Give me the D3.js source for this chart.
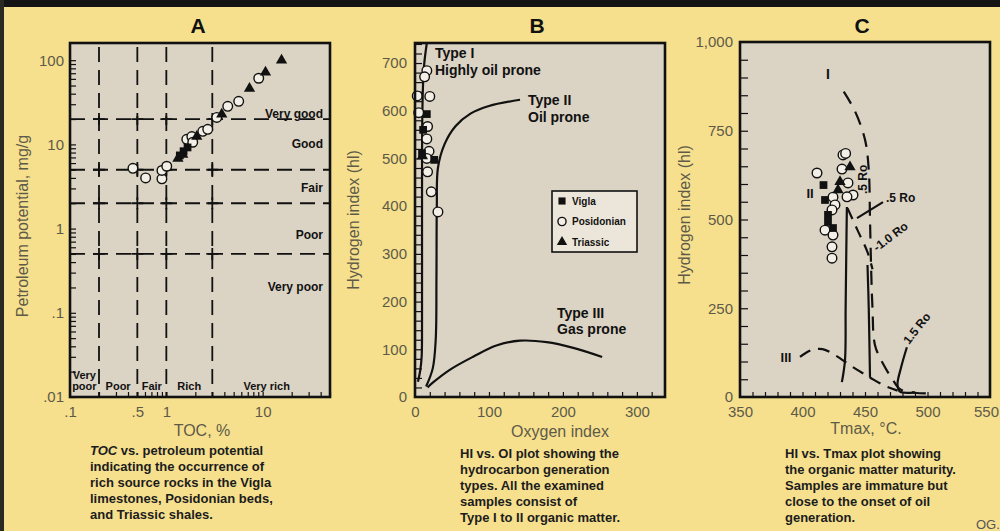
<!DOCTYPE html>
<html>
<head>
<meta charset="utf-8">
<script src="https://cdn.jsdelivr.net/npm/d3@7"></script>
<style>
  body { margin: 0; background: #f6e08e; }
  svg { display: block; font-family: "Liberation Sans", Arial, sans-serif; }
</style>
</head>
<body>
<svg id="chart" width="1000" height="531"></svg>
<script>
// ---------- panel A data : TOC (%) vs petroleum potential (mg/g) ----------
var aVigla = [[1.38, 7.4], [1.51, 8.3], [1.66, 9.2]];
var aPosidonian = [[0.45, 5.2], [0.61, 4.0], [0.90, 3.9], [0.90, 4.9], [1.01, 5.5], [1.63, 11.5],
  [1.84, 12.4], [1.88, 10.6], [2.39, 14.3], [2.69, 15.1], [3.34, 20.9], [4.34, 28.3], [5.64, 32.5], [9.1, 61]];
var aTriassic = [[1.32, 6.8], [1.48, 7.6], [2.07, 12.4], [3.76, 22.8], [7.3, 46], [10.7, 72], [15.7, 100]];
var tocTicks = [0.1, 0.5, 1, 10];
var tocTickLabels = ['.1', '.5', '1', '10'];
var ppTicks = [0.01, 0.1, 1, 10, 100];
var ppTickLabels = ['.01', '.1', '1', '10', '100'];
var tocBounds = [0.2, 0.5, 1, 3];
var tocClasses = [['Very', 'poor'], ['Poor'], ['Fair'], ['Rich'], ['Very rich']];
var tocClassAt = [0.141, 0.316, 0.707, 1.73, 11];
var ppBounds = [0.5, 2, 5, 20];
var ppClasses = ['Very good', 'Good', 'Fair', 'Poor', 'Very poor'];
var ppClassAt = [23, 10, 3.0, 0.85, 0.2];

// ---------- panel B data : oxygen index vs hydrogen index ----------
var bVigla = [[16, 593], [11, 560], [9.5, 511], [26, 497]];
var bPosidonian = [[16, 684], [13, 671], [3, 631], [20, 630], [5, 596], [17, 567], [16, 541],
  [19, 515], [16, 500], [17, 472], [22, 430], [31, 388]];
var bTriassic = [[10, 505]];
var oiTicks = [0, 100, 200, 300];
var hiTicksB = [0, 100, 200, 300, 400, 500, 600, 700];
var bTypeI = [[4, 32], [7, 55], [9, 85], [9.5, 150], [9.5, 400], [10, 600], [12, 690], [16, 742]];
var bTypeII = [[15, 22], [24, 60], [28, 120], [29, 250], [29.5, 400], [31, 480], [40, 530], [55, 568],
  [75, 594], [100, 610], [142, 623]];
var bTypeIII = [[17, 20], [24, 30], [47, 57], [78, 84], [110, 108], [142, 118], [178, 115], [214, 103], [253, 84]];

// ---------- panel C data : Tmax vs hydrogen index ----------
var cVigla = [[416.8, 597], [418, 555], [420.4, 513], [420.4, 493], [424.4, 476]];
var cPosidonian = [[411.6, 631], [432.4, 682], [434.5, 686], [431.6, 642], [436.4, 603], [440.4, 569],
  [435.6, 564], [424.4, 563], [426, 541], [423.6, 527], [418, 470], [424.4, 456], [423.6, 423], [423.6, 391]];
var cTriassic = [[438, 648], [430, 606], [428.4, 583]];
var tmaxTicks = [350, 400, 450, 500, 550];
var hiTicksC = [0, 250, 500, 750, 1000];
var cTypeI = [[433, 860], [442, 805], [450, 725], [453, 640], [454, 500], [455, 350], [456, 250],
  [458, 146], [465, 90], [472, 50], [478, 22], [490, 12], [505, 10]];
var cTypeII = [[436, 532], [444, 470], [452, 408], [456, 360]];
var cTypeIII = [[398, 113], [407, 132], [416, 135], [426, 118], [440, 85], [454, 55], [465, 33], [476, 18]];
var cRo05 = [[435.5, 535], [435, 400], [434.5, 250], [434, 104], [431.5, 42]];
var cRo10 = [[452, 372], [453, 250], [454, 54]];
var cRo15 = [[483.5, 140], [479, 85], [476, 35], [478, 15], [490, 13]];

var bg = '#f6e08e', plotBg = '#dbd3c4', ink = '#111', tickInk = '#5e5a48';

var svg = d3.select('#chart');
svg.append('rect').attr('width', 1000).attr('height', 531).attr('fill', bg);
svg.append('rect').attr('width', 1000).attr('height', 7).attr('fill', '#141414');
svg.append('rect').attr('width', 4).attr('height', 531).attr('fill', '#2a2a22');

function panel(x0, y0, x1, y1) {
  var g = svg.append('g');
  g.append('rect').attr('x', x0).attr('y', y0).attr('width', x1 - x0).attr('height', y1 - y0)
    .attr('fill', plotBg);
  return g;
}
function frame(g, x0, y0, x1, y1) {
  g.append('rect').attr('x', x0).attr('y', y0).attr('width', x1 - x0).attr('height', y1 - y0)
    .attr('fill', 'none').attr('stroke', ink).attr('stroke-width', 2.6);
}
function labelAxis(g, axis, tx, ty) {
  var a = g.append('g').attr('transform', 'translate(' + tx + ',' + ty + ')').call(axis);
  a.select('.domain').remove();
  a.selectAll('text').attr('fill', tickInk).style('font-size', '15px');
  return a;
}
function tickAxis(g, axis, tx, ty) {
  var a = g.append('g').attr('transform', 'translate(' + tx + ',' + ty + ')').call(axis);
  a.select('.domain').remove();
  a.selectAll('line').attr('stroke', ink).attr('stroke-width', 1.2);
}
function points(g, data, x, y, kind, scale) {
  var s = scale || 1;
  if (kind === 'circle') {
    g.selectAll(null).data(data).enter().append('circle')
      .attr('cx', function(d) { return x(d[0]); })
      .attr('cy', function(d) { return y(d[1]); })
      .attr('r', 4.8 * s).attr('fill', '#f3efe6').attr('stroke', ink).attr('stroke-width', 1.4);
  } else {
    var sym = d3.symbol().type(kind === 'square' ? d3.symbolSquare : d3.symbolTriangle)
      .size(kind === 'square' ? 60 * s : 55 * s);
    g.selectAll(null).data(data).enter().append('path')
      .attr('d', sym)
      .attr('transform', function(d) { return 'translate(' + x(d[0]) + ',' + y(d[1]) + ')'; })
      .attr('fill', ink);
  }
}
function curve(g, data, x, y, dash) {
  var line = d3.line().x(function(d) { return x(d[0]); }).y(function(d) { return y(d[1]); })
    .curve(d3.curveCatmullRom);
  g.append('path').attr('d', line(data)).attr('fill', 'none').attr('stroke', ink)
    .attr('stroke-width', 2.2).attr('stroke-dasharray', dash || null);
}
function bold(g, x, y, t, size, anchor) {
  return g.append('text').attr('x', x).attr('y', y).text(t).attr('fill', ink)
    .style('font-size', (size || 13) + 'px').style('font-weight', 'bold')
    .attr('text-anchor', anchor || 'start');
}
function caption(x, y, lines) {
  lines.forEach(function(l, i) {
    var t = svg.append('text').attr('x', x).attr('y', y + i * 16).attr('fill', '#1c1c1c')
      .style('font-size', '13px').style('font-weight', 'bold');
    if (i === 0 && l.indexOf('TOC') === 0) {
      t.append('tspan').text('TOC').style('font-style', 'italic');
      t.append('tspan').text(l.slice(3));
    } else t.text(l);
  });
}
function yTitle(x, y, t) {
  svg.append('text').attr('transform', 'translate(' + x + ',' + y + ') rotate(-90)')
    .attr('text-anchor', 'middle').attr('fill', tickInk).style('font-size', '16px').text(t);
}
function xTitle(x, y, t) {
  svg.append('text').attr('x', x).attr('y', y).attr('text-anchor', 'middle')
    .attr('fill', tickInk).style('font-size', '16px').text(t);
}

// ================= Panel A =================
var xA = d3.scaleLog().domain([0.1, 50]).range([70, 330]);
var yA = d3.scaleLog().domain([0.01, 160]).range([397, 43]);
var gA = panel(70, 43, 330, 397);
tickAxis(gA, d3.axisBottom(xA).tickValues(xA.ticks()).tickSize(-5).tickFormat(''), 0, 397);
tickAxis(gA, d3.axisLeft(yA).tickValues(yA.ticks()).tickSize(-6).tickFormat(''), 70, 0);
labelAxis(gA, d3.axisBottom(xA).tickValues(tocTicks).tickSize(0).tickPadding(9)
  .tickFormat(function(d, i) { return tocTickLabels[i]; }), 0, 397);
labelAxis(gA, d3.axisLeft(yA).tickValues(ppTicks).tickSize(0).tickPadding(6)
  .tickFormat(function(d, i) { return ppTickLabels[i]; }), 70, 0);
tocBounds.forEach(function(v) {
  gA.append('line').attr('x1', xA(v)).attr('x2', xA(v)).attr('y1', 47).attr('y2', 397)
    .attr('stroke', ink).attr('stroke-width', 1.8).attr('stroke-dasharray', '15,8');
});
ppBounds.forEach(function(v) {
  gA.append('line').attr('x1', 70).attr('x2', 330).attr('y1', yA(v)).attr('y2', yA(v))
    .attr('stroke', ink).attr('stroke-width', 1.8).attr('stroke-dasharray', '15,8');
});
tocBounds.forEach(function(a) {
  ppBounds.forEach(function(b) {
    gA.append('path').attr('d', 'M' + (xA(a) - 6) + ',' + yA(b) + 'h12M' + xA(a) + ',' + (yA(b) - 6) + 'v12')
      .attr('stroke', ink).attr('stroke-width', 1.8);
  });
});
ppClasses.forEach(function(t, i) { bold(gA, 323, yA(ppClassAt[i]) + 4, t, 12, 'end'); });
tocClasses.forEach(function(t, i) {
  t.forEach(function(w, j) {
    bold(gA, xA(tocClassAt[i]), 390 - (t.length - 1 - j) * 11, w, 11, 'middle');
  });
});
points(gA, aPosidonian, xA, yA, 'circle');
points(gA, aVigla, xA, yA, 'square');
points(gA, aTriassic, xA, yA, 'triangle');
frame(gA, 70, 43, 330, 397);
bold(svg, 198, 33, 'A', 21, 'middle');
yTitle(28, 226, 'Petroleum potential, mg/g');
xTitle(202, 436, 'TOC, %');
caption(90, 455, ['TOC vs. petroleum potential', 'indicating the occurrence of',
  'rich source rocks in the Vigla', 'limestones, Posidonian beds,', 'and Triassic shales.']);

// ================= Panel B =================
var xB = d3.scaleLinear().domain([0, 338]).range([415, 665]);
var yB = d3.scaleLinear().domain([0, 742]).range([397, 43]);
var gB = panel(415, 43, 665, 397);
tickAxis(gB, d3.axisBottom(xB).tickValues(d3.range(20, 338, 20)).tickSize(-5).tickFormat(''), 0, 397);
tickAxis(gB, d3.axisLeft(yB).tickValues(d3.range(20, 742, 20)).tickSize(-7).tickFormat(''), 415, 0);
labelAxis(gB, d3.axisBottom(xB).tickValues(oiTicks).tickSize(0).tickPadding(9), 0, 397);
labelAxis(gB, d3.axisLeft(yB).tickValues(hiTicksB).tickSize(0).tickPadding(8), 415, 0);
curve(gB, bTypeI, xB, yB);
curve(gB, bTypeII, xB, yB);
curve(gB, bTypeIII, xB, yB);
points(gB, bPosidonian, xB, yB, 'circle');
points(gB, bVigla, xB, yB, 'square');
points(gB, bTriassic, xB, yB, 'triangle');
bold(gB, 435, 58, 'Type I', 14);
bold(gB, 435, 75, 'Highly oil prone', 14);
bold(gB, 528, 105, 'Type II', 14);
bold(gB, 528, 122, 'Oil prone', 14);
bold(gB, 557, 318, 'Type III', 14);
bold(gB, 557, 334, 'Gas prone', 14);
// legend
var leg = gB.append('g');
leg.append('rect').attr('x', 552).attr('y', 191).attr('width', 85).attr('height', 61)
  .attr('fill', '#ece6da').attr('stroke', ink).attr('stroke-width', 1.6);
var legItems = [['Vigla', 'square'], ['Posidonian', 'circle'], ['Triassic', 'triangle']];
legItems.forEach(function(it, i) {
  var cy = 201 + i * 20.5;
  var lx = d3.scaleLinear().domain([0, 1]).range([562, 563]);
  var ly = d3.scaleLinear().domain([0, 1]).range([cy, cy + 1]);
  points(leg, [[0, 0]], lx, ly, it[1], 0.85);
  bold(leg, 572, cy + 3.5, it[0], 10);
});
frame(gB, 415, 43, 665, 397);
bold(svg, 537, 33, 'B', 21, 'middle');
yTitle(359, 220, 'Hydrogen index (hl)');
xTitle(560, 437, 'Oxygen index');
caption(460, 458, ['HI vs. OI plot showing the', 'hydrocarbon generation', 'types. All the examined',
  'samples consist of', 'Type I to II organic matter.']);

// ================= Panel C =================
var xC = d3.scaleLinear().domain([350, 550]).range([740, 990]);
var yC = d3.scaleLinear().domain([0, 1000]).range([397, 42]);
var gC = panel(740, 42, 990, 397);
tickAxis(gC, d3.axisBottom(xC).tickValues(d3.range(360, 550, 10)).tickSize(-5).tickFormat(''), 0, 397);
tickAxis(gC, d3.axisLeft(yC).tickValues(d3.range(50, 1000, 50)).tickSize(-8).tickFormat(''), 740, 0);
var tmaxAxis = labelAxis(gC, d3.axisBottom(xC).tickValues(tmaxTicks).tickSize(0).tickPadding(9), 0, 397);
tmaxAxis.selectAll('text').filter(function(d) { return d === 550; }).attr('dx', -4);
labelAxis(gC, d3.axisLeft(yC).tickValues(hiTicksC).tickSize(0).tickPadding(7)
  .tickFormat(d3.format(',')), 740, 0);
curve(gC, cTypeI, xC, yC, '14,9');
curve(gC, cTypeII, xC, yC, '12,8');
curve(gC, cTypeIII, xC, yC, '12,8');
curve(gC, cRo05, xC, yC);
curve(gC, cRo10, xC, yC);
curve(gC, cRo15, xC, yC);
curve(gC, [[443.6, 504], [464.4, 549]], xC, yC);
points(gC, cPosidonian, xC, yC, 'circle');
points(gC, cVigla, xC, yC, 'square');
points(gC, cTriassic, xC, yC, 'triangle');
bold(gC, 828, 79, 'I', 14, 'middle');
bold(gC, 810, 198, 'II', 13, 'middle');
bold(gC, 786, 362, 'III', 13, 'middle');
bold(gC, 886, 202, '.5 Ro', 12);
bold(gC, 0, 0, '.5 Ro', 12).attr('transform', 'translate(867,194) rotate(-90)');
bold(gC, 0, 0, '-1.0 Ro', 12).attr('transform', 'translate(877,252) rotate(-37)');
bold(gC, 0, 0, '1.5 Ro', 12).attr('transform', 'translate(909,345) rotate(-52)');
frame(gC, 740, 42, 990, 397);
bold(svg, 862, 33, 'C', 21, 'middle');
yTitle(690, 215, 'Hydrogen index (hl)');
xTitle(866, 434, 'Tmax, \u00b0C.');
caption(785, 458, ['HI vs. Tmax plot showing', 'the organic matter maturity.', 'Samples are immature but',
  'close to the onset of oil', 'generation.']);
svg.append('text').attr('x', 976).attr('y', 529).attr('fill', '#555').style('font-size', '13px').text('OG.');
</script>
</body>
</html>
